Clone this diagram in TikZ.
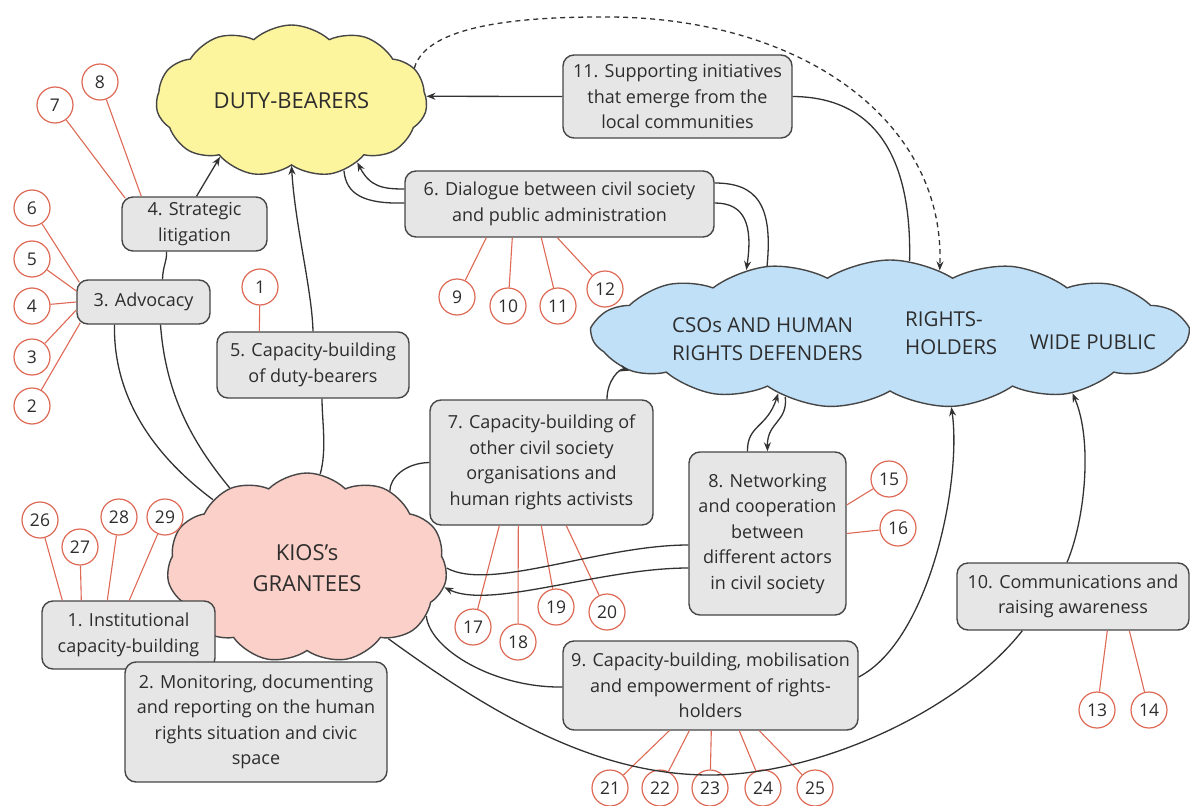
\documentclass[tikz,border=0pt]{standalone}
\usepackage{fontspec}
\setmainfont{Open Sans}
\usetikzlibrary{shapes.symbols,arrows.meta,calc}
\definecolor{txt}{RGB}{45,45,45}
\definecolor{boxfill}{RGB}{230,230,230}
\definecolor{boxline}{RGB}{70,70,70}
\definecolor{redc}{RGB}{222,105,85}
\definecolor{dutyfill}{RGB}{253,244,158}
\definecolor{kiosfill}{RGB}{250,208,200}
\definecolor{bluefill}{RGB}{192,224,248}
\definecolor{conn}{RGB}{50,50,50}
\begin{document}
\begin{tikzpicture}[x=1pt,y=-1pt,
  box/.style={draw=boxline, fill=boxfill, rounded corners=11pt, line width=1.4pt, align=center, inner sep=0pt, font=\fontsize{18}{25.5}\selectfont, text=txt},
  num/.style={circle, draw=redc, fill=white, line width=1.2pt, minimum size=36pt, inner sep=0pt, font=\fontsize{17.5}{17.5}\selectfont, text=txt},
  redl/.style={draw=redc, line width=1.1pt},
  cl/.style={cloud, cloud ignores aspect, draw=boxline, line width=1.4pt, inner sep=0pt, align=center, text=txt, font=\fontsize{22}{31}\selectfont},
  cltext/.style={align=left, text=txt, inner sep=0pt, font=\fontsize{20.5}{28}\selectfont},
  link/.style={draw=conn, line width=1.3pt},
  arr/.style={link, -{Stealth[length=9pt,width=7pt]}},
  dashlink/.style={arr, dash pattern=on 5pt off 4pt}
]
\useasboundingbox (0,0) rectangle (1190,805);
% clouds
\node[cl, fill=dutyfill, cloud puffs=11, cloud puff arc=85, minimum width=271pt, minimum height=152pt] (duty) at (291.5,101) {DUTY-BEARERS};
\node[cl, fill=kiosfill, cloud puffs=11, cloud puff arc=90, minimum width=280pt, minimum height=190pt] (kios) at (307,568) {KIOS's\\GRANTEES};
\node[cl, fill=bluefill, cloud puffs=15, cloud puff arc=65, minimum width=596pt, minimum height=148pt] (blue) at (890,334) {};
\node[cltext, anchor=west] (csos) at (672,339) {CSOs AND HUMAN\\RIGHTS DEFENDERS};
\node[cltext, anchor=west] (rh) at (905,333) {RIGHTS-\\HOLDERS};
\node[cltext] (wp) at (1093,342) {WIDE PUBLIC};
% circles
\node[num] (c1) at (260,287) {1};
\node[num] (c2) at (32,406) {2};
\node[num] (c3) at (32,357) {3};
\node[num] (c4) at (32,306) {4};
\node[num] (c5) at (32,259) {5};
\node[num] (c6) at (32,208) {6};
\node[num] (c7) at (55,105) {7};
\node[num] (c8) at (100,82) {8};
\node[num] (c9) at (457,297) {9};
\node[num] (c10) at (508,306) {10};
\node[num] (c11) at (558,306) {11};
\node[num] (c12) at (605,289) {12};
\node[num] (c13) at (1097,710) {13};
\node[num] (c14) at (1149,710) {14};
\node[num] (c15) at (889,479) {15};
\node[num] (c16) at (898,528) {16};
\node[num] (c17) at (473,627) {17};
\node[num] (c18) at (518,642) {18};
\node[num] (c19) at (556,607) {19};
\node[num] (c20) at (607,612) {20};
\node[num] (c21) at (610,788) {21};
\node[num] (c22) at (660,788) {22};
\node[num] (c23) at (710,788) {23};
\node[num] (c24) at (763,788) {24};
\node[num] (c25) at (815,788) {25};
\node[num] (c26) at (40,520) {26};
\node[num] (c27) at (80,547) {27};
\node[num] (c28) at (119,517) {28};
\node[num] (c29) at (165,517) {29};
% boxes
\node[box, minimum width=173pt, minimum height=68pt] (b1) at (128.5,635) {1. Institutional\\capacity-building};
\node[box, minimum width=262pt, minimum height=120pt] (b2) at (256,722) {2. Monitoring, documenting\\and reporting on the human\\rights situation and civic\\space};
\node[box, minimum width=133pt, minimum height=44pt] (b3) at (143.5,302) {3. Advocacy};
\node[box, minimum width=145pt, minimum height=54pt] (b4) at (194.5,224) {4. Strategic\\litigation};
\node[box, minimum width=192pt, minimum height=66pt] (b5) at (313,365) {5. Capacity-building\\of duty-bearers};
\node[box, minimum width=309pt, minimum height=66pt] (b6) at (559.5,204) {6. Dialogue between civil society\\and public administration};
\node[box, minimum width=223pt, minimum height=125pt] (b7) at (541.5,462.5) {7. Capacity-building of\\other civil society\\organisations and\\human rights activists};
\node[box, minimum width=157pt, minimum height=163pt] (b8) at (767.5,533.5) {8. Networking\\and cooperation\\between\\different actors\\in civil society};
\node[box, minimum width=295pt, minimum height=89pt] (b9) at (710.5,685.5) {9. Capacity-building, mobilisation\\and empowerment of rights-\\holders};
\node[box, minimum width=232pt, minimum height=67pt] (b10) at (1073,596.5) {10. Communications and\\raising awareness};
\node[box, minimum width=229pt, minimum height=83pt] (b11) at (677.5,96.5) {11. Supporting initiatives\\that emerge from the\\local communities};
% red links
\draw[redl] (c1) -- ($(b5.north west)+(43,0)$);
\draw[redl] (c2) -- ($(b3.south west)+(4,-2)$);
\draw[redl] (c3) -- ($(b3.west)+(0,8)$);
\draw[redl] (c4) -- (b3.west);
\draw[redl] (c5) -- ($(b3.west)+(0,-11)$);
\draw[redl] (c6) -- ($(b3.north west)+(3,3)$);
\draw[redl] (c7) -- ($(b4.north west)+(4,2)$);
\draw[redl] (c8) -- ($(b4.north west)+(20,0)$);
\draw[redl] (c9) -- ($(b6.south west)+(82,0)$);
\draw[redl] (c10) -- ($(b6.south west)+(108,0)$);
\draw[redl] (c11) -- ($(b6.south west)+(137,0)$);
\draw[redl] (c12) -- ($(b6.south west)+(153,0)$);
\draw[redl] (c13) -- ($(b10.south west)+(151,0)$);
\draw[redl] (c14) -- ($(b10.south west)+(173,0)$);
\draw[redl] (c15) -- ($(b8.east)+(0,-28.5)$);
\draw[redl] (c16) -- (b8.east);
\draw[redl] (c17) -- ($(b7.south west)+(70,0)$);
\draw[redl] (c18) -- ($(b7.south west)+(89,0)$);
\draw[redl] (c19) -- ($(b7.south west)+(112,0)$);
\draw[redl] (c20) -- ($(b7.south west)+(137,0)$);
\draw[redl] (c21) -- ($(b9.south west)+(107,0)$);
\draw[redl] (c22) -- ($(b9.south west)+(127,0)$);
\draw[redl] (c23) -- ($(b9.south west)+(149,0)$);
\draw[redl] (c24) -- ($(b9.south west)+(177,0)$);
\draw[redl] (c25) -- ($(b9.south west)+(197,0)$);
\draw[redl] (c26) -- ($(b1.north west)+(21,0)$);
\draw[redl] (c27) -- ($(b1.north west)+(40,0)$);
\draw[redl] (c28) -- ($(b1.north west)+(66,0)$);
\draw[redl] (c29) -- ($(b1.north west)+(88,0)$);
% black connectors
\draw[arr] ($(b4.north)+(2,0)$) -- (duty.218);
\draw[link] ($(b3.north)+(19,0)$) .. controls (163,265) and (167,262) .. ($(b4.south)+(-28,0)$);
\draw[link] ($(b3.south)+(-29,0)$) .. controls (113,400) and (157,458) .. (kios.144);
\draw[link] ($(b3.south)+(17,0)$) .. controls (166,400) and (197,448) .. (kios.134);
\draw[link] (kios.82) .. controls (327,450) and (322,420) .. ($(b5.south)+(9,0)$);
\draw[arr] (b5.north) .. controls (312,290) and (295,225) .. (duty.270);
\draw[arr] ($(b6.west)+(0,-15)$) .. controls (383,189) and (370,187) .. (duty.317);
\draw[link] ($(b6.west)+(0,-1)$) .. controls (365,204) and (346,195) .. (duty.307);
\draw[link] ($(b6.east)+(0,-21)$) .. controls (757,183) and (773,205) .. (blue.151);
\draw[arr] ($(b6.east)+(0,-1)$) .. controls (745,203) and (753,225) .. (blue.156);
\draw[arr] (b11.west) -- (duty.2);
\draw[link] (b11.east) .. controls (870,97) and (912,150) .. (blue.75);
\draw[dashlink] (duty.15) .. controls (425,30) and (500,17) .. (600,17) .. controls (800,15) and (945,120) .. (blue.52);
\draw[arr] ($(b7.north)+(65.5,0)$) .. controls (607,380) and (620,368) .. (blue.188);
\draw[link] (b7.west) .. controls (405,463) and (390,478) .. (kios.43);
\draw[arr] ($(b8.north)+(-20,0)$) .. controls (747,425) and (767,428) .. (blue.208);
\draw[arr] (blue.211) .. controls (788,422) and (767,422) .. (b8.north);
\draw[link] ($(b8.west)+(0,11.5)$) .. controls (600,545) and (490,592) .. (kios.0);
\draw[arr] ($(b8.west)+(0,34.5)$) .. controls (600,568) and (490,610) .. (kios.352);
\draw[link] ($(b9.west)+(0,1.5)$) .. controls (495,688) and (430,650) .. (kios.338);
\draw[arr] ($(b9.east)+(0,-8.5)$) .. controls (930,640) and (962,480) .. (blue.310);
\draw[link] (kios.319) .. controls (500,720) and (600,775) .. (710,775) .. controls (820,775) and (960,710) .. ($(b10.south west)+(66,0)$);
\draw[arr] ($(b10.north)+(-6,0)$) .. controls (1085,520) and (1093,440) .. (blue.342);
\end{tikzpicture}
\end{document}
